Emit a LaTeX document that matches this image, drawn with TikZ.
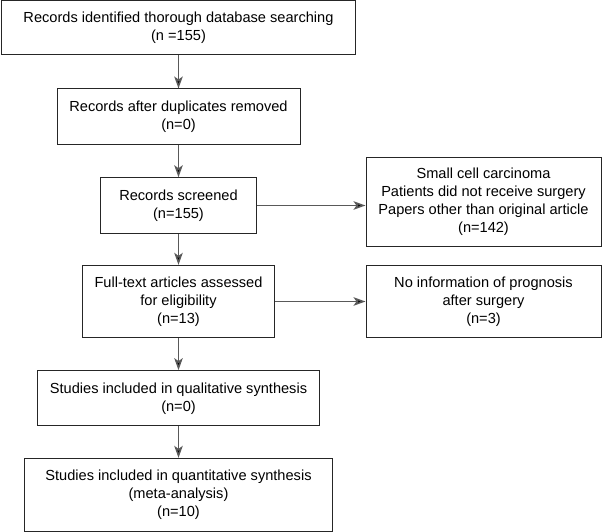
\documentclass[tikz,border=0pt]{standalone}
\usepackage{fontspec}
\setmainfont{Liberation Sans}
\usetikzlibrary{arrows.meta,calc,positioning}

\begin{document}
\begin{tikzpicture}[x=1pt,y=-1pt,font=\fontsize{14.6}{18}\selectfont]

\tikzset{box/.style={draw=black!85,line width=1pt,align=center,inner sep=0pt,shape=rectangle,fill=white},
arr/.style={draw=black!65,line width=1.5pt,-{Stealth[length=12pt,width=8.5pt,inset=3pt,fill=black]}}}

\useasboundingbox (0,0) rectangle (602,532);

% Main column
\node[box,minimum width=354pt,minimum height=54pt] (ident) at (178.5,27.8) {Records identified thorough database searching\\(n =155)};
\node[box,minimum width=243pt,minimum height=55pt] (dedup) at (178.5,116.5) {Records after duplicates removed\\(n=0)};
\node[box,minimum width=156.5pt,minimum height=55.5pt] (screen) at (178.5,205.5) {Records screened\\(n=155)};
\node[box,minimum width=192pt,minimum height=72.3pt] (fulltext) at (178.5,301.5) {Full-text articles assessed\\for eligibility\\(n=13)};
\node[box,minimum width=282.3pt,minimum height=55.3pt] (qual) at (178.5,398.3) {Studies included in qualitative synthesis\\(n=0)};
\node[box,minimum width=307.7pt,minimum height=72.7pt] (quant) at (178.5,494.7) {Studies included in quantitative synthesis\\(meta-analysis)\\(n=10)};

% Excluded records
\node[box,minimum width=235pt,minimum height=89pt] (excl1) at (483.5,201.5) {Small cell carcinoma\\Patients did not receive surgery\\Papers other than original article\\(n=142)};
\node[box,minimum width=235pt,minimum height=72.3pt] (excl2) at (483.5,301.5) {No information of prognosis\\after surgery\\(n=3)};

% Arrows
\foreach \a/\b in {ident/dedup,dedup/screen,screen/fulltext,fulltext/qual,qual/quant} \draw[arr] (\a) -- (\b);
\draw[arr] (screen.east) -- (screen.east -| excl1.west);
\draw[arr] (fulltext.east) -- (excl2.west);

\end{tikzpicture}
\end{document}
